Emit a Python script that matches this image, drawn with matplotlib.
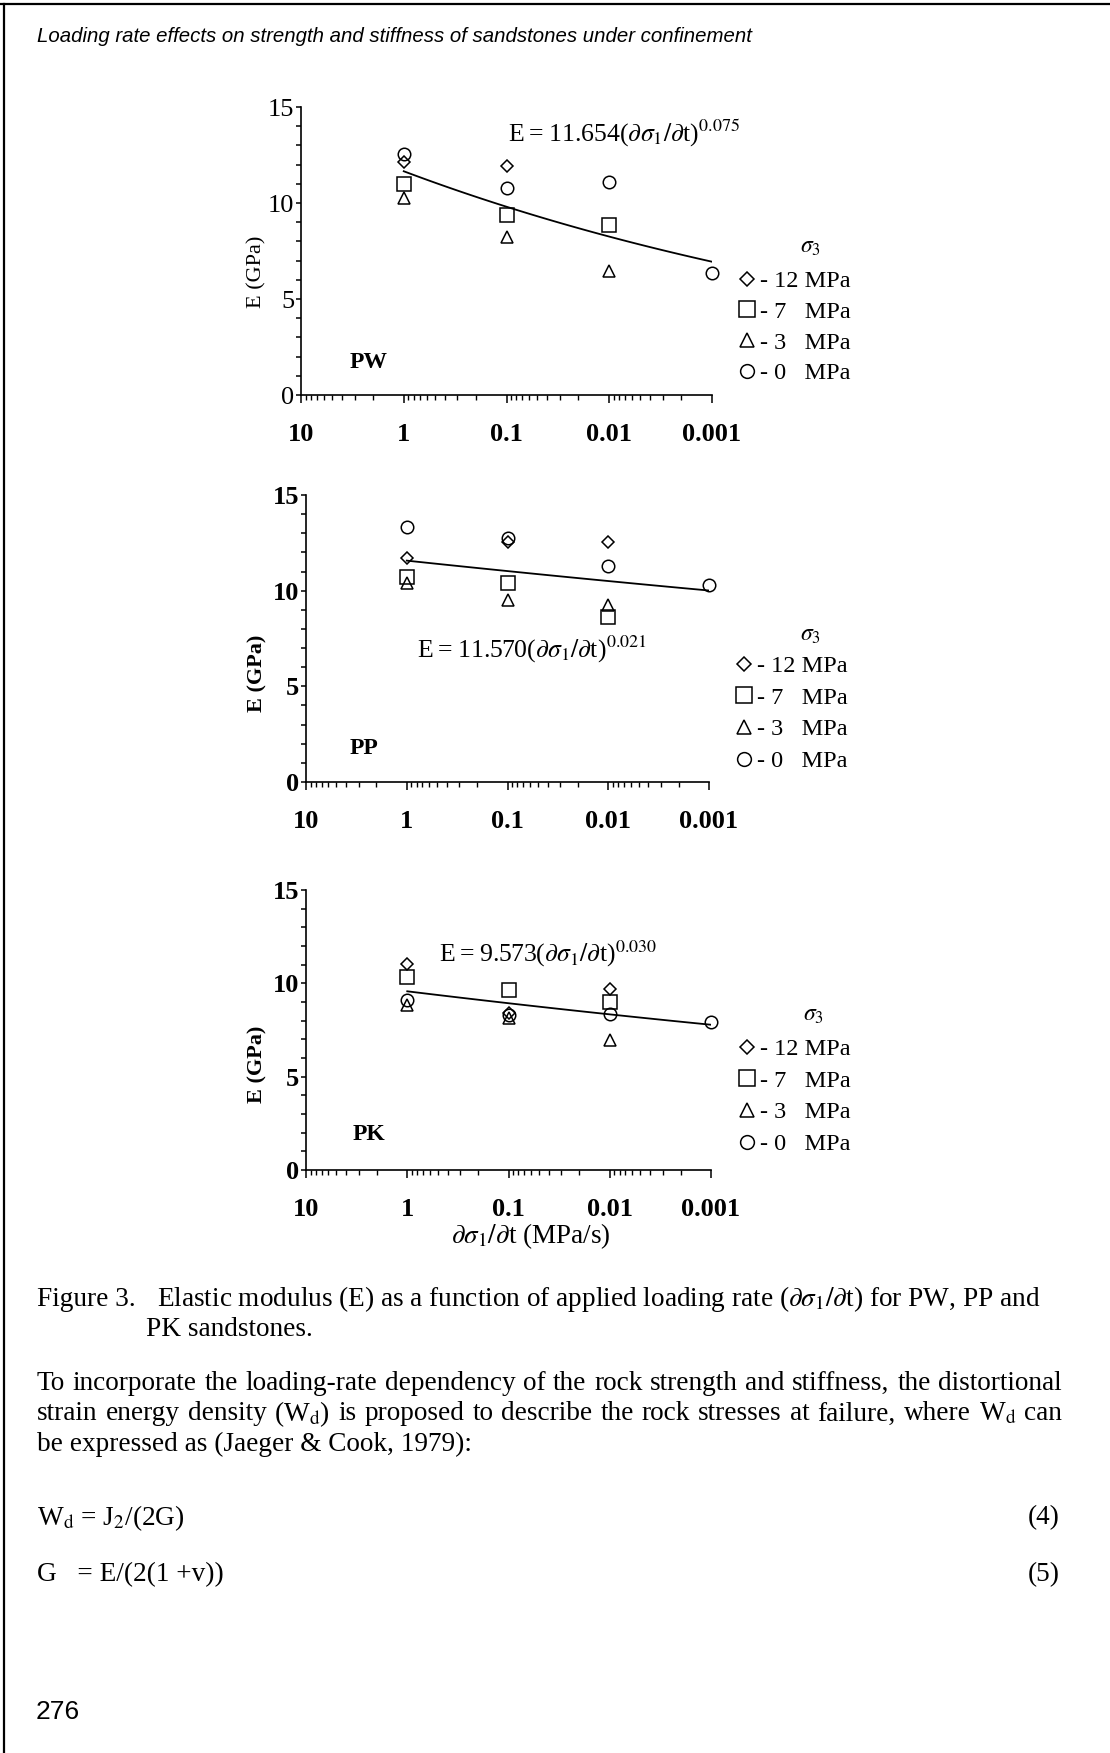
import numpy as np
import matplotlib
matplotlib.use("Agg")
import matplotlib.pyplot as plt
from matplotlib.lines import Line2D
from matplotlib.ticker import FixedLocator, FixedFormatter, LogLocator, MultipleLocator

plt.rcParams['font.family'] = ['Liberation Serif', 'DejaVu Serif']
plt.rcParams['mathtext.fontset'] = 'stix'

# loading rate (MPa/s) and elastic modulus E (GPa) per confining pressure
rates = [1, 0.1, 0.01, 0.001]
rate_ticks = [10, 1, 0.1, 0.01, 0.001]
rate_labels = ['10', '1', '0.1', '0.01', '0.001']
sigma3_labels = ['- 12 MPa', '- 7   MPa', '- 3   MPa', '- 0   MPa']

pw_12 = [12.14, 11.91, np.nan, np.nan]
pw_7 = [11.01, 9.40, 8.88, np.nan]
pw_3 = [10.27, 8.24, 6.45, np.nan]
pw_0 = [12.57, 10.80, 11.10, 6.33]

pp_12 = [11.73, 12.56, 12.56, np.nan]
pp_7 = [10.74, 10.42, 8.60, np.nan]
pp_3 = [10.39, 9.52, 9.26, np.nan]
pp_0 = [13.31, 12.74, 11.31, 10.30]

pk_12 = [11.04, 8.39, 9.70, np.nan]
pk_7 = [10.36, 9.64, 8.98, np.nan]
pk_3 = [8.84, 8.16, 6.96, np.nan]
pk_0 = [9.11, 8.30, 8.34, 7.95]

# power-law fits E = a * rate^b
pw_fit = (11.654, 0.075)
pp_fit = (11.570, 0.021)
pk_fit = (9.573, 0.030)

W, H = 1110, 1753
fig = plt.figure(figsize=(W / 100, H / 100), dpi=100)


def fx(px):
    return px / W


def fy(py):
    return 1 - py / H


markers = [('D', 6.6), ('s', 10), ('^', 9), ('o', 9)]
thin = '\u2009'


def panel(name, series, fit, box, eq_xy, name_xy, ylab_xy, leg_xy, s3_xy, bold,
          spacing=0.4, xlabel=None):
    left, top, right, bottom = box
    ax = fig.add_axes([fx(left), fy(bottom), (right - left) / W, (bottom - top) / H])
    a, b = fit
    r = np.logspace(0, -3, 80)
    ax.plot(r, a * r ** b, color='black', lw=1.3, zorder=2)
    handles = []
    for vals, (m, ms) in zip(series, markers):
        h, = ax.plot(rates, vals, ls='none', marker=m, ms=ms, mfc='none',
                     mec='black', mew=1.1, zorder=3, clip_on=False)
        handles.append(h)
    ax.set_xscale('log')
    ax.set_xlim(10, 0.001)
    ax.set_ylim(0, 15)
    ax.xaxis.set_major_locator(FixedLocator(rate_ticks))
    ax.xaxis.set_major_formatter(FixedFormatter(rate_labels))
    ax.xaxis.set_minor_locator(LogLocator(base=10, subs=np.arange(2, 10), numticks=20))
    ax.xaxis.set_minor_formatter(FixedFormatter([]))
    ax.yaxis.set_major_locator(MultipleLocator(5))
    ax.yaxis.set_minor_locator(MultipleLocator(1))
    for s in ['top', 'right']:
        ax.spines[s].set_visible(False)
    for s in ['left', 'bottom']:
        ax.spines[s].set_linewidth(1.2)
    ax.tick_params(axis='x', which='major', direction='out', length=6, width=1.1,
                   pad=14, labelsize=19)
    ax.tick_params(axis='x', which='minor', direction='out', length=3.5, width=1.0)
    ax.tick_params(axis='y', which='both', direction='out', length=3.5, width=1.1,
                   pad=1.5, labelsize=19)
    for t in ax.get_xticklabels():
        t.set_fontweight('bold')
    if bold:
        for t in ax.get_yticklabels():
            t.set_fontweight('bold')
    ax.set_ylabel('E (GPa)', fontsize=16, fontweight='bold' if bold else 'normal')
    ax.yaxis.label.set_va('center')
    ax.yaxis.set_label_coords((ylab_xy[0] - left) / (right - left),
                              (bottom - ylab_xy[1]) / (bottom - top))
    fig.text(fx(eq_xy[0]), fy(eq_xy[1]),
             f'E{thin}={thin}{a:.3f}($\\partial\\sigma_1/\\partial$t)$^{{{b:.3f}}}$',
             fontsize=18.5, va='baseline')
    fig.text(fx(name_xy[0]), fy(name_xy[1]), name, fontsize=17,
             fontweight='bold', va='center')
    fig.text(fx(s3_xy[0]), fy(s3_xy[1]), r'$\sigma_3$', fontsize=17,
             va='center', ha='center')
    ax.legend(handles, sigma3_labels, loc='upper left',
              bbox_to_anchor=(fx(leg_xy[0]), fy(leg_xy[1])),
              bbox_transform=fig.transFigure, frameon=False,
              fontsize=17.5, handlelength=0.75, handletextpad=0.15,
              labelspacing=spacing, borderpad=0, borderaxespad=0, markerscale=1.1)
    if xlabel:
        ax.set_xlabel(xlabel, fontsize=19.5)
    return ax


panel('PW', [pw_12, pw_7, pw_3, pw_0], pw_fit, (301, 107, 712, 395),
      (508, 142), (350, 362), (257, 272), (738, 270), (810, 247), False, spacing=0.36)
panel('PP', [pp_12, pp_7, pp_3, pp_0], pp_fit, (306, 495, 709, 782),
      (417, 658), (350, 748), (257, 673), (735, 655), (810, 635), True)
ax3 = panel('PK', [pk_12, pk_7, pk_3, pk_0], pk_fit, (306, 890, 711, 1170),
            (439, 961), (353, 1135), (257, 1064), (738, 1038), (813, 1015), True,
            xlabel=r'$\partial\sigma_1/\partial$t (MPa/s)')
ax3.xaxis.set_label_coords((531 - 306) / (711 - 306), -(1236 - 1170) / (1170 - 890))
ax3.xaxis.label.set_va('center')

# page frame
fig.add_artist(Line2D([0, 1], [fy(4), fy(4)], transform=fig.transFigure, color='black', lw=1.6))
fig.add_artist(Line2D([fx(4), fx(4)], [fy(4), 0], transform=fig.transFigure, color='black', lw=1.6))

fig.text(fx(37), fy(37), 'Loading rate effects on strength and stiffness of sandstones under confinement',
         family=['Liberation Sans', 'DejaVu Sans'], style='italic', fontsize=14.7, va='center')

body = 19.6
x0, x1 = 37, 1062
fig.text(fx(x0), fy(1299), 'Figure 3.', fontsize=body, va='center')
fig.text(fx(157), fy(1299),
         r'Elastic modulus (E) as a function of applied loading rate ($\partial\sigma_1/\partial$t) for PW, PP and',
         fontsize=body, va='center')
fig.text(fx(146), fy(1330), 'PK sandstones.', fontsize=body, va='center')

para = [
    'To incorporate the loading-rate dependency of the rock strength and stiffness, the distortional',
    r'strain energy density (W$_\mathrm{d}$) is proposed to describe the rock stresses at failure, where W$_\mathrm{d}$ can',
    'be expressed as (Jaeger & Cook, 1979):',
]
para_y = [1384, 1414, 1444]
renderer = fig.canvas.get_renderer()
for i, (line, y) in enumerate(zip(para, para_y)):
    if i == len(para) - 1:
        fig.text(fx(x0), fy(y), line, fontsize=body, va='center')
        continue
    words = line.split(' ')
    texts = [fig.text(fx(x0), fy(y), w, fontsize=body, va='center') for w in words]
    widths = [t.get_window_extent(renderer).width for t in texts]
    gap = (x1 - x0 - sum(widths)) / (len(words) - 1)
    x = x0
    for t, w in zip(texts, widths):
        t.set_x(fx(x))
        x += w + gap

fig.text(fx(x0), fy(1518), r'W$_\mathrm{d}$ = J$_2$/(2G)', fontsize=body, va='center')
fig.text(fx(1060), fy(1518), '(4)', fontsize=body, va='center', ha='right')
fig.text(fx(x0), fy(1575), 'G   = E/(2(1 +v))', fontsize=body, va='center')
fig.text(fx(1060), fy(1575), '(5)', fontsize=body, va='center', ha='right')

fig.text(fx(36), fy(1712), '276', family=['Liberation Sans', 'DejaVu Sans'], fontsize=19, va='center')

fig.savefig('out.png', dpi=100, facecolor='white')
